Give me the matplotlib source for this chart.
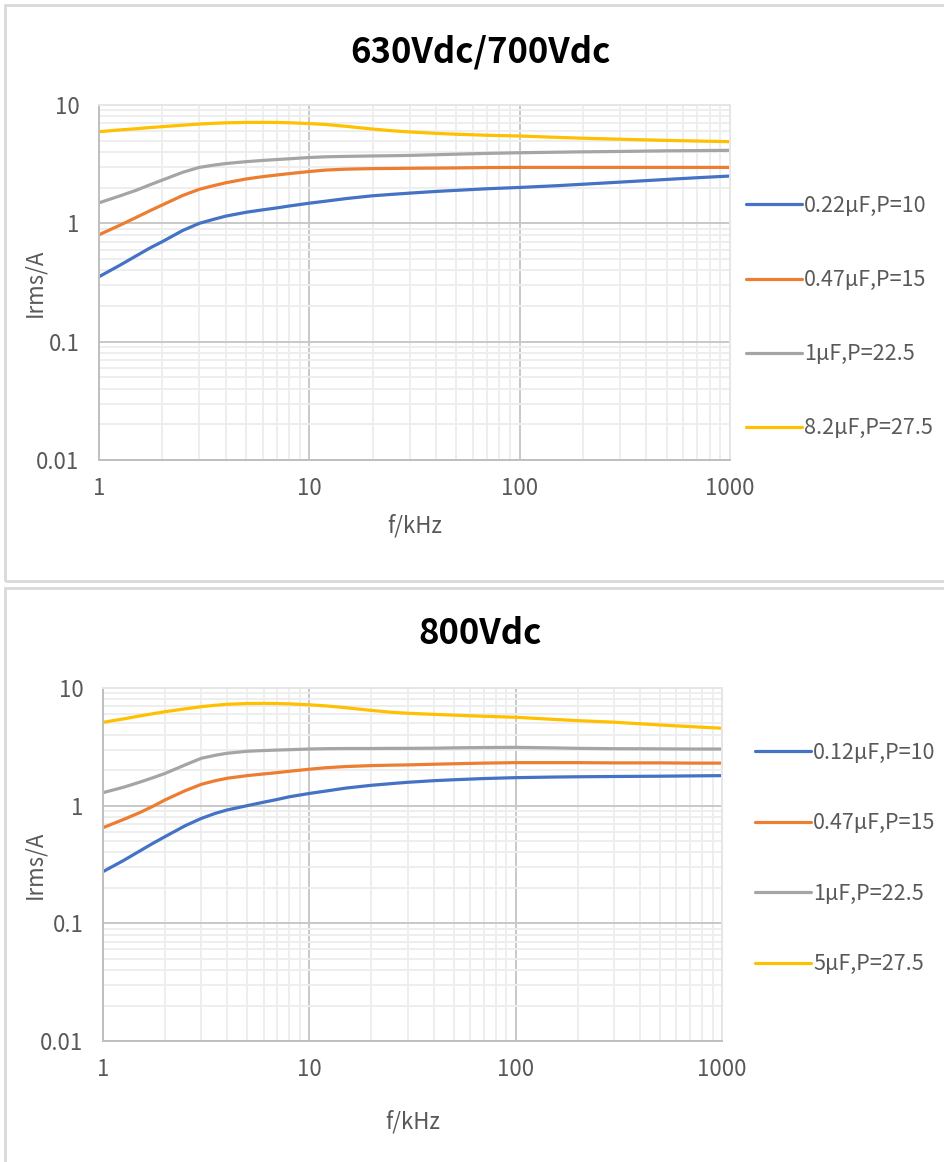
import matplotlib
matplotlib.use("Agg")
import matplotlib.pyplot as plt
from matplotlib.patches import Rectangle
from matplotlib.ticker import FixedLocator, FixedFormatter, LogLocator, NullFormatter

plt.rcParams['font.family'] = ['Noto Sans CJK SC', 'DejaVu Sans']

# frequencies (kHz), shared by all series
freq = [1, 1.25, 1.5, 1.75, 2, 2.5, 3, 3.5, 4, 5, 6, 7, 8, 10, 12, 15, 20, 25, 30,
        40, 50, 70, 100, 150, 200, 300, 500, 700, 1000]

# 630Vdc/700Vdc
top_labels = ['0.22μF,P=10', '0.47μF,P=15', '1μF,P=22.5', '8.2μF,P=27.5']
top_blue = [0.354, 0.44, 0.53, 0.62, 0.70, 0.87, 1.0, 1.08, 1.15, 1.24, 1.3, 1.35, 1.4, 1.48, 1.54,
            1.62, 1.71, 1.76, 1.8, 1.86, 1.9, 1.96, 2.01, 2.08, 2.14, 2.23, 2.35, 2.43, 2.51]
top_orange = [0.8, 0.96, 1.12, 1.28, 1.43, 1.72, 1.94, 2.08, 2.2, 2.37, 2.48, 2.56, 2.63, 2.74, 2.82,
              2.87, 2.9, 2.91, 2.92, 2.93, 2.94, 2.96, 2.97, 2.97, 2.97, 2.97, 2.97, 2.97, 2.97]
top_gray = [1.49, 1.7, 1.9, 2.12, 2.32, 2.7, 2.97, 3.1, 3.2, 3.32, 3.4, 3.46, 3.51, 3.6, 3.65,
            3.68, 3.71, 3.73, 3.75, 3.8, 3.84, 3.9, 3.95, 3.99, 4.02, 4.05, 4.1, 4.12, 4.14]
top_yellow = [5.95, 6.15, 6.3, 6.45, 6.56, 6.75, 6.9, 7.0, 7.07, 7.12, 7.13, 7.12, 7.08, 6.97, 6.84,
              6.6, 6.26, 6.05, 5.92, 5.76, 5.66, 5.55, 5.47, 5.33, 5.24, 5.14, 5.02, 4.96, 4.9]

# 800Vdc
bot_labels = ['0.12μF,P=10', '0.47μF,P=15', '1μF,P=22.5', '5μF,P=27.5']
bot_blue = [0.275, 0.34, 0.41, 0.48, 0.546, 0.675, 0.78, 0.86, 0.92, 1.0, 1.07, 1.13, 1.19, 1.27, 1.33,
            1.41, 1.49, 1.54, 1.58, 1.63, 1.66, 1.7, 1.73, 1.75, 1.76, 1.77, 1.78, 1.79, 1.8]
bot_orange = [0.65, 0.76, 0.87, 0.99, 1.12, 1.34, 1.52, 1.63, 1.71, 1.8, 1.86, 1.91, 1.96, 2.04, 2.1,
              2.15, 2.19, 2.21, 2.22, 2.25, 2.27, 2.3, 2.32, 2.32, 2.32, 2.31, 2.31, 2.3, 2.3]
bot_gray = [1.29, 1.43, 1.58, 1.73, 1.88, 2.22, 2.53, 2.68, 2.79, 2.9, 2.94, 2.97, 2.99, 3.03, 3.05,
            3.06, 3.06, 3.07, 3.07, 3.08, 3.1, 3.12, 3.13, 3.1, 3.07, 3.05, 3.04, 3.03, 3.03]
bot_yellow = [5.11, 5.45, 5.78, 6.05, 6.29, 6.65, 6.94, 7.13, 7.27, 7.38, 7.4, 7.38, 7.33, 7.2, 7.05,
              6.8, 6.45, 6.22, 6.1, 5.97, 5.88, 5.75, 5.64, 5.42, 5.28, 5.12, 4.85, 4.7, 4.55]

x_ticks = [1, 10, 100, 1000]
x_ticklabels = ['1', '10', '100', '1000']
y_ticks = [0.01, 0.1, 1, 10]
y_ticklabels = ['0.01', '0.1', '1', '10']

colors = ['#4472C4', '#ED7D31', '#A5A5A5', '#FFC000']
txt = '#595959'

W, H = 944, 1162
fig = plt.figure(figsize=(W / 100, H / 100), dpi=100)

# chart frames
for (x0, y0, x1, y1) in [(5, 5, 960, 581), (5, 588, 960, 1180)]:
    fig.patches.append(Rectangle((x0 / W, 1 - y1 / H), (x1 - x0) / W, (y1 - y0) / H,
                                 transform=fig.transFigure, fill=False,
                                 edgecolor='#d9d9d9', lw=2))


def draw(box, title, title_y, series, labels, ylab_x, xlab_y, leg_x, leg_y, leg_space):
    l, t, r, b = box
    ax = fig.add_axes([l / W, 1 - b / H, (r - l) / W, (b - t) / H])
    for ys, c, lab in zip(series, colors, labels):
        ax.plot(freq, ys, color=c, lw=2.3, label=lab, solid_capstyle='round')
    ax.set_xscale('log')
    ax.set_yscale('log')
    ax.set_xlim(1, 1000)
    ax.set_ylim(0.01, 10)
    ax.xaxis.set_major_locator(FixedLocator(x_ticks))
    ax.xaxis.set_major_formatter(FixedFormatter(x_ticklabels))
    ax.yaxis.set_major_locator(FixedLocator(y_ticks))
    ax.yaxis.set_major_formatter(FixedFormatter(y_ticklabels))
    for a in (ax.xaxis, ax.yaxis):
        a.set_minor_locator(LogLocator(base=10, subs=range(2, 10)))
        a.set_minor_formatter(NullFormatter())
    ax.grid(which='major', color='#c8c8c8', lw=1.4)
    ax.grid(which='minor', color='#eeeeee', lw=1.4)
    ax.set_axisbelow(True)
    ax.tick_params(which='both', length=0, labelsize=16, labelcolor=txt)
    ax.tick_params(axis='x', pad=12.5)
    ax.tick_params(axis='y', pad=14)
    for s in ['top', 'right']:
        ax.spines[s].set_color('#e6e6e6')
        ax.spines[s].set_linewidth(1.4)
    for s in ['left', 'bottom']:
        ax.spines[s].set_color('#bfbfbf')
        ax.spines[s].set_linewidth(1.4)
    ax.set_ylabel('Irms/A', fontsize=16, color=txt)
    ax.yaxis.set_label_coords((ylab_x - l) / (r - l), 0.5)
    ax.set_xlabel('f/kHz', fontsize=16, color=txt)
    ax.xaxis.set_label_coords(0.5, -(xlab_y - b) / (b - t))
    fig.text(480 / W, 1 - title_y / H, title, ha='center', va='center',
             fontsize=25, fontweight='bold', color='#000000')
    ax.legend(loc='upper left', bbox_to_anchor=(leg_x / W, 1 - leg_y / H),
              bbox_transform=fig.transFigure, frameon=False, fontsize=15.5,
              labelcolor=txt, handlelength=2.6, handletextpad=0.1,
              labelspacing=leg_space, borderpad=0, borderaxespad=0)
    return ax


draw((99, 105, 730, 460), '630Vdc/700Vdc', 52,
     [top_blue, top_orange, top_gray, top_yellow], top_labels, 46, 514, 746, 195, 2.42)
draw((103, 688, 722, 1041), '800Vdc', 633,
     [bot_blue, bot_orange, bot_gray, bot_yellow], bot_labels, 46, 1110, 755, 742, 2.25)

fig.savefig('out.png', dpi=100)
